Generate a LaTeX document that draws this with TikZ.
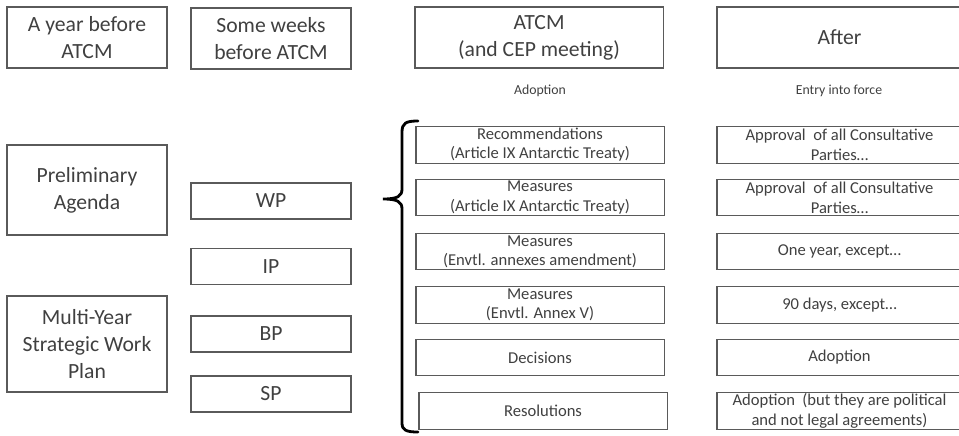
\documentclass[tikz,border=0pt]{standalone}
\usepackage{fontspec}
\setmainfont{Carlito}
\usepackage{xcolor}
\usetikzlibrary{positioning}
\definecolor{txtgray}{HTML}{404040}
\definecolor{boxgray}{HTML}{5A5A5A}

\begin{document}
\begin{tikzpicture}[x=0.025cm, y=-0.025cm, text=txtgray]
  \tikzset{
    box/.style={draw=boxgray, line width=0.75pt, align=center, inner sep=1pt},
    head/.style={box, minimum height=1.525cm, font=\fontsize{15.4}{19.4}\selectfont},
    early/.style={box, minimum width=4cm, font=\fontsize{15.4}{19.2}\selectfont},
    paper/.style={box, minimum width=4cm, minimum height=0.9cm, font=\fontsize{15.4}{19.2}\selectfont},
    act/.style={box, minimum width=6.2cm, minimum height=0.92cm, font=\fontsize{11.8}{13.6}\selectfont},
    force/.style={box, minimum width=6.125cm, minimum height=0.92cm, font=\fontsize{11.8}{14.2}\selectfont},
    colnote/.style={font=\fontsize{9.8}{12}\selectfont},
    brace/.style={draw=black, line width=2pt, line cap=round},
  }
  \useasboundingbox (0,0) rectangle (959,435);

  %% ===== Column headers =====
  \node[head, minimum width=4cm] (yearhd) at (87,37.5) {A year before\\ATCM};
  \node[head, minimum width=4cm] (weekhd) at (271,38.5) {Some weeks\\before ATCM};
  \node[head, minimum width=6.2cm] (atcmhd) at (539,37.5) {ATCM\\(and CEP meeting)};
  \node[head, minimum width=6.125cm] (afterhd) at (839.5,37.5) {After};
  \node[colnote] (adopt) at (540,91) {Adoption};
  \node[colnote] (entry) at (839,91) {Entry into force};

  %% ===== A year before =====
  \node[early, minimum height=2.25cm] (agenda) at (87,190) {Preliminary\\Agenda};
  \node[early, minimum height=2.4cm] (plan) at (87,344) {Multi-Year\\Strategic Work\\Plan};

  %% ===== Some weeks before: papers =====
  \node[paper] (wp) at (271,201) {WP};
  \node[paper] (ip) at (271,266.5) {IP};
  \node[paper] (bp) at (271,334) {BP};
  \node[paper] (sp) at (271,394) {SP};

  %% ===== ATCM: instruments adopted =====
  \node[act] (rec) at (540,145) {Recommendations\\(Article IX Antarctic Treaty)};
  \node[act] (mesix) at (540,197.5) {Measures\\(Article IX Antarctic Treaty)};
  \node[act] (mesann) at (540,251.5) {Measures\\(Envtl. annexes amendment)};
  \node[act] (mesv) at (540,305) {Measures\\(Envtl. Annex V)};
  \node[act] (dec) at (540,357.5) {Decisions};
  \node[act] (res) at (543,411) {Resolutions};

  %% ===== After: entry into force =====
  \node[force] (recf) at (839.5,145) {Approval\ \ of all Consultative\\Parties…};
  \node[force] (mesixf) at (839.5,197.5) {Approval\ \ of all Consultative\\Parties…};
  \node[force] (mesannf) at (839.5,251.5) {One year, except…};
  \node[force] (mesvf) at (839.5,305) {90 days, except…};
  \node[force] (decf) at (839.5,357.5) {Adoption};
  \node[force] (resf) at (839.5,411) {Adoption\ \ (but they are political\\and not legal agreements)};

  % Curly brace grouping the ATCM instruments
  \draw[brace] (418,121) .. controls (406,121) and (402,123) .. (402,132) -- (402,189)
    .. controls (402,196) and (398,199) .. (383,199)
    .. controls (398,199) and (402,202) .. (402,209) -- (402,423)
    .. controls (402,430) and (406,432) .. (418,432);
\end{tikzpicture}
\end{document}
